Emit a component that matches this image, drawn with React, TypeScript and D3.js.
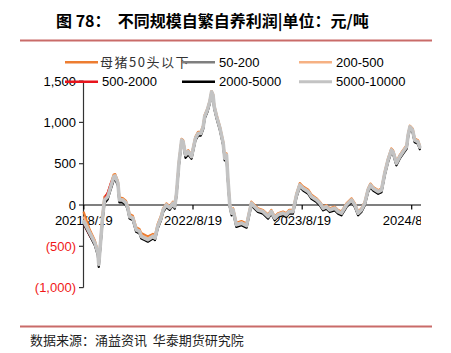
import React from 'react';
import * as d3 from 'd3';

const dates = [
  '2021-08-19','2021-09-08','2021-09-25','2021-10-05','2021-10-08','2021-10-21','2021-10-27','2021-11-07','2021-11-17','2021-11-27',
  '2021-12-02','2021-12-11','2021-12-16','2021-12-27','2022-01-07','2022-01-13','2022-01-19','2022-01-30','2022-02-10','2022-02-21',
  '2022-02-27','2022-03-10','2022-03-21','2022-04-07','2022-04-14','2022-04-23','2022-05-04','2022-05-11','2022-05-22','2022-06-02',
  '2022-06-13','2022-06-19','2022-06-25','2022-07-03','2022-07-12','2022-07-17','2022-07-25','2022-08-03','2022-08-14','2022-08-27',
  '2022-09-05','2022-09-14','2022-09-22','2022-09-27','2022-10-06','2022-10-14','2022-10-20','2022-10-25','2022-10-29','2022-11-06',
  '2022-11-17','2022-11-28','2022-12-03','2022-12-09','2022-12-14','2022-12-20','2022-12-26','2022-12-31','2023-01-11','2023-01-28',
  '2023-02-14','2023-03-02','2023-03-13','2023-03-24','2023-04-10','2023-04-27','2023-05-08','2023-05-19','2023-05-30','2023-06-16',
  '2023-06-27','2023-07-06','2023-07-19','2023-07-31','2023-08-11','2023-08-22','2023-09-08','2023-09-19','2023-10-06','2023-10-17',
  '2023-10-28','2023-11-08','2023-11-19','2023-12-06','2023-12-17','2023-12-28','2024-01-14','2024-01-31','2024-02-11','2024-02-22',
  '2024-03-04','2024-03-15','2024-03-26','2024-04-03','2024-04-12','2024-04-29','2024-05-10','2024-05-21','2024-06-01','2024-06-12',
  '2024-06-18','2024-06-29','2024-07-10','2024-07-21','2024-08-02','2024-08-07','2024-08-13','2024-08-22','2024-08-29','2024-09-09','2024-09-15'
];

const seriesNames = ['母猪50头以下', '50-200', '200-500', '500-2000', '2000-5000', '5000-10000'];

const sowUnder50 = [
  -90,-300,-430,-560,-690,-100,100,140,260,370,
  375,290,90,85,50,-10,-110,-130,-270,-290,
  -340,-360,-380,-350,-370,-230,-130,-40,20,-15,
  40,0,165,530,800,785,625,665,605,825,
  885,885,965,1090,1165,1265,1380,1345,1205,1090,
  950,765,585,625,320,20,-80,-40,-215,-195,
  -225,40,0,-40,-60,-115,-60,-140,-100,-80,
  -100,-60,-60,140,265,225,185,125,80,40,
  -20,0,-40,-20,-60,-80,20,80,20,-80,
  -40,40,200,260,220,180,200,405,565,685,
  660,525,605,665,725,865,960,925,805,785,720
];
const s50to200 = [
  -215,-355,-475,-595,-730,-160,45,85,205,315,
  320,250,45,45,10,-50,-155,-175,-315,-335,
  -395,-415,-435,-395,-415,-275,-175,-75,-15,-50,
  5,-35,130,495,770,750,590,630,570,790,
  850,850,930,1055,1135,1235,1355,1315,1175,1055,
  915,730,550,590,285,-15,-115,-75,-255,-235,
  -265,5,-35,-75,-95,-155,-95,-175,-135,-115,
  -135,-95,-95,105,225,185,145,85,45,5,
  -55,-35,-75,-55,-95,-115,-15,45,-15,-115,
  -75,5,165,225,185,145,165,370,530,650,
  625,490,570,630,690,830,930,890,770,750,685
];
const s200to500 = [
  -150,-320,-445,-570,-705,-120,80,120,240,355,
  360,280,75,72,37,-22,-128,-148,-288,-308,
  -365,-385,-405,-368,-388,-248,-148,-48,12,-23,
  32,-8,157,522,797,777,617,657,597,817,
  877,877,957,1082,1162,1262,1378,1342,1202,1082,
  942,757,577,617,312,12,-88,-48,-228,-208,
  -238,32,-8,-48,-68,-128,-68,-148,-108,-88,
  -108,-68,-68,132,252,212,172,112,72,32,
  -28,-8,-48,-28,-68,-88,12,72,12,-88,
  -48,32,192,252,212,172,192,397,557,677,
  652,517,597,657,717,857,957,917,797,777,712
];
const s500to2000 = [
  -240,-380,-480,-560,-700,-120,80,160,270,345,
  345,260,55,55,20,-40,-145,-165,-305,-325,
  -385,-405,-425,-385,-405,-265,-165,-65,-5,-40,
  15,-25,140,505,780,760,600,640,580,800,
  860,860,940,1065,1145,1245,1365,1325,1185,1065,
  925,740,560,600,295,-5,-105,-65,-245,-225,
  -255,15,-25,-65,-85,-145,-85,-165,-125,-105,
  -125,-85,-85,115,235,195,155,95,55,15,
  -45,-25,-65,-45,-85,-105,-5,55,-5,-105,
  -65,15,175,235,195,155,175,380,540,660,
  635,500,580,640,700,840,940,900,780,760,695
];
const s2000to5000 = [
  -230,-370,-490,-610,-750,-180,20,70,190,300,
  310,235,30,30,0,-60,-165,-185,-325,-345,
  -405,-425,-445,-405,-425,-285,-185,-85,-25,-60,
  -5,-45,120,480,760,740,570,610,560,780,
  840,840,920,1045,1125,1225,1345,1305,1165,1045,
  905,720,540,580,275,-25,-125,-85,-265,-245,
  -275,-5,-45,-85,-105,-165,-105,-185,-145,-125,
  -145,-105,-105,95,215,175,135,75,35,-5,
  -65,-45,-85,-65,-105,-125,-25,35,-25,-125,
  -85,-5,155,215,175,135,155,360,520,640,
  615,480,560,620,680,820,920,880,760,740,675
];
const s5000to10000 = [
  -200,-340,-460,-580,-720,-140,60,100,220,340,
  350,265,60,60,25,-35,-140,-160,-300,-320,
  -380,-400,-420,-380,-400,-260,-160,-60,0,-35,
  20,-20,145,510,785,765,605,645,585,805,
  865,865,945,1070,1150,1250,1370,1330,1190,1070,
  930,745,565,605,300,0,-100,-60,-240,-220,
  -250,20,-20,-60,-80,-140,-80,-160,-120,-100,
  -120,-80,-80,120,240,200,160,100,60,20,
  -40,-20,-60,-40,-80,-100,0,60,0,-100,
  -60,20,180,240,200,160,180,385,545,665,
  640,505,585,645,705,845,945,905,785,765,700
];

const yTicks = [-1000, -500, 0, 500, 1000, 1500];
const yTickLabels = ['(1,000)', '(500)', '0', '500', '1,000', '1,500'];
const xTickDates = ['2021-08-19', '2022-08-19', '2023-08-19', '2024-08-19'];
const xTickLabels = ['2021/8/19', '2022/8/19', '2023/8/19', '2024/8/19'];

const allSeries = [sowUnder50, s50to200, s200to500, s500to2000, s2000to5000, s5000to10000];
const colors = ['#ED7D31', '#7F7F7F', '#F6B183', '#E8141C', '#000000', '#C3C3C3'];
const widths = [2.2, 2.2, 2.2, 1.6, 2.2, 3.6];

const W = 451, H = 353;
const parse = d3.timeParse('%Y-%m-%d');

export default function App() {
  const x = d3.scaleTime()
    .domain([parse('2021-08-19')!, parse('2024-08-19')!])
    .range([83.8, 411.7]);
  const y = d3.scaleLinear().domain([-1000, 1500]).range([287.6, 81.1]);
  const ds = dates.map((d) => parse(d)!);

  const line = d3.line<number>()
    .x((_, i) => x(ds[i]))
    .y((v) => y(v))
    .curve(d3.curveLinear);

  const font = 'Liberation Sans, Arial, sans-serif';
  const cjk = '"Noto Sans CJK SC", sans-serif';
  const legendPos = [
    { lx: 65, tx: 100, cy: 62.3 },
    { lx: 182, tx: 219, cy: 62.3 },
    { lx: 299, tx: 336, cy: 62.3 },
    { lx: 65, tx: 102, cy: 81.7 },
    { lx: 182, tx: 219, cy: 81.7 },
    { lx: 299, tx: 336, cy: 81.7 },
  ];
  const axisX0 = 83.5;
  const axisX1 = 421;
  const y0 = y(0);

  return (
    <svg width={W} height={H} style={{ position: 'absolute', left: 0, top: 0, background: '#fff' }}>
      <defs>
        <clipPath id="clipX">
          <rect x={0} y={0} width={421} height={H} />
        </clipPath>
      </defs>
      <rect x={0} y={0} width={W} height={H} fill="#fff" />
      <text x={56} y={27} fontFamily={cjk} fontWeight="bold" fontSize={16} fill="#000" style={{ whiteSpace: 'pre' }}>
        {'图 78：  不同规模自繁自养利润|单位：元/吨'}
      </text>
      <line x1={20} x2={432} y1={40.5} y2={40.5} stroke="#C96B69" strokeWidth={2} />

      {/* y axis */}
      <line x1={axisX0} x2={axisX0} y1={y(1500)} y2={y(-1000)} stroke="#333" strokeWidth={1.2} />
      {yTicks.map((t, i) => (
        <g key={t}>
          <line x1={axisX0 - 4.5} x2={axisX0} y1={y(t)} y2={y(t)} stroke="#333" strokeWidth={1.2} />
          <text x={76} y={y(t)} dy="0.35em" textAnchor="end" fontFamily={font} fontSize={13}
            fill={t < 0 ? '#F01818' : '#000'}>{yTickLabels[i]}</text>
        </g>
      ))}

      {/* x axis */}
      <line x1={axisX0} x2={axisX1} y1={y0} y2={y0} stroke="#000" strokeWidth={1.2} />
      <g clipPath="url(#clipX)">
        {xTickDates.map((d, i) => {
          const xx = x(parse(d)!);
          return (
            <g key={d}>
              <line x1={xx} x2={xx} y1={y0} y2={y0 + 4.5} stroke="#000" strokeWidth={1.2} />
              <text x={xx} y={224.5} textAnchor="middle" fontFamily={font} fontSize={13} fill="#000">{xTickLabels[i]}</text>
            </g>
          );
        })}
      </g>

      {/* series */}
      {allSeries.map((s, i) => (
        <path key={seriesNames[i]} d={line(s) || ''} fill="none" stroke={colors[i]} strokeWidth={widths[i]}
          strokeLinejoin="round" strokeLinecap="round" />
      ))}

      {/* legend */}
      {seriesNames.map((n, i) => {
        const p = legendPos[i];
        return (
          <g key={n}>
            <line x1={p.lx} x2={p.lx + 33} y1={p.cy} y2={p.cy} stroke={colors[i]} strokeWidth={i === 5 ? 3 : 2.5} />
            <text x={p.tx} y={p.cy} dy="0.36em" fontFamily={i === 0 ? cjk : font} fontSize={13}
              letterSpacing={i === 0 ? 1.5 : 0} fill={i === 0 ? '#333' : '#000'}>{n}</text>
          </g>
        );
      })}

      <line x1={20} x2={432} y1={326.5} y2={326.5} stroke="#C96B69" strokeWidth={2} />
      <text x={30} y={345} fontFamily={cjk} fontSize={13} fill="#222" style={{ whiteSpace: 'pre' }}>
        {'数据来源：涌益资讯  华泰期货研究院'}
      </text>
    </svg>
  );
}
